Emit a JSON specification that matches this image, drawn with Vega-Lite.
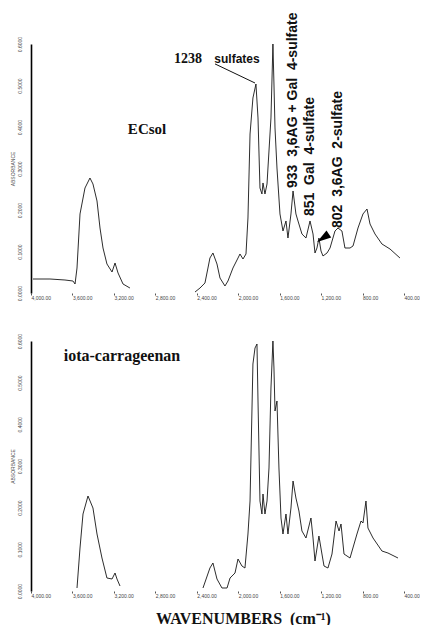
{
  "$schema": "https://vega.github.io/schema/vega-lite/v6.json",
  "padding": {"left": 10, "top": 12, "right": 0, "bottom": 0},
  "spacing": 48,
  "bounds": "flush",
  "background": "white",
  "config": {
    "view": {"stroke": null},
    "axisX": {"domain": false, "tickSize": 2, "tickColor": "#555", "labelFontSize": 5, "labelColor": "#444", "labelAlign": "left", "labelPadding": 0, "grid": false, "labelFont": "Liberation Sans"},
    "axisY": {"domain": true, "domainColor": "#000", "domainWidth": 1.6, "ticks": false, "labelAngle": -90, "labelFontSize": 5, "labelColor": "#444", "labelPadding": 9, "grid": false, "labelFont": "Liberation Sans", "titleFont": "Liberation Sans", "titleFontSize": 5, "titleFontWeight": "normal", "titleColor": "#444", "titlePadding": 2}
  },
  "datasets": {
    "top": [
      {"seg": 1, "wn": 3981, "a": 0.0337}, {"seg": 1, "wn": 3817, "a": 0.0337}, {"seg": 1, "wn": 3672, "a": 0.0313},
      {"seg": 1, "wn": 3595, "a": 0.0289}, {"seg": 1, "wn": 3575, "a": 0.0217}, {"seg": 1, "wn": 3556, "a": 0.0602},
      {"seg": 1, "wn": 3527, "a": 0.1904}, {"seg": 1, "wn": 3479, "a": 0.2530}, {"seg": 1, "wn": 3431, "a": 0.2771},
      {"seg": 1, "wn": 3402, "a": 0.2627}, {"seg": 1, "wn": 3363, "a": 0.2217}, {"seg": 1, "wn": 3334, "a": 0.1566},
      {"seg": 1, "wn": 3305, "a": 0.1084}, {"seg": 1, "wn": 3267, "a": 0.0699}, {"seg": 1, "wn": 3218, "a": 0.0506},
      {"seg": 1, "wn": 3189, "a": 0.0723}, {"seg": 1, "wn": 3160, "a": 0.0482}, {"seg": 1, "wn": 3112, "a": 0.0217},
      {"seg": 1, "wn": 3045, "a": 0.0120},
      {"seg": 2, "wn": 2417, "a": 0.0024}, {"seg": 2, "wn": 2369, "a": 0.0120}, {"seg": 2, "wn": 2321, "a": 0.0241},
      {"seg": 2, "wn": 2292, "a": 0.0602}, {"seg": 2, "wn": 2273, "a": 0.0843}, {"seg": 2, "wn": 2244, "a": 0.0964},
      {"seg": 2, "wn": 2205, "a": 0.0699}, {"seg": 2, "wn": 2176, "a": 0.0361}, {"seg": 2, "wn": 2128, "a": 0.0169},
      {"seg": 2, "wn": 2099, "a": 0.0289}, {"seg": 2, "wn": 2051, "a": 0.0602}, {"seg": 2, "wn": 2002, "a": 0.0843},
      {"seg": 2, "wn": 1983, "a": 0.0940}, {"seg": 2, "wn": 1954, "a": 0.0819}, {"seg": 2, "wn": 1925, "a": 0.0940},
      {"seg": 2, "wn": 1906, "a": 0.1807}, {"seg": 2, "wn": 1886, "a": 0.3831}, {"seg": 2, "wn": 1858, "a": 0.4699},
      {"seg": 2, "wn": 1829, "a": 0.5036}, {"seg": 2, "wn": 1809, "a": 0.4217}, {"seg": 2, "wn": 1790, "a": 0.2530},
      {"seg": 2, "wn": 1771, "a": 0.2386}, {"seg": 2, "wn": 1761, "a": 0.2651}, {"seg": 2, "wn": 1742, "a": 0.2386},
      {"seg": 2, "wn": 1722, "a": 0.2627}, {"seg": 2, "wn": 1713, "a": 0.3012}, {"seg": 2, "wn": 1684, "a": 0.4217},
      {"seg": 2, "wn": 1665, "a": 0.6000}, {"seg": 2, "wn": 1655, "a": 0.5036}, {"seg": 2, "wn": 1645, "a": 0.3976},
      {"seg": 2, "wn": 1626, "a": 0.3012}, {"seg": 2, "wn": 1597, "a": 0.1904}, {"seg": 2, "wn": 1568, "a": 0.1494},
      {"seg": 2, "wn": 1539, "a": 0.1735}, {"seg": 2, "wn": 1520, "a": 0.1325}, {"seg": 2, "wn": 1491, "a": 0.1904},
      {"seg": 2, "wn": 1471, "a": 0.2458}, {"seg": 2, "wn": 1443, "a": 0.1904}, {"seg": 2, "wn": 1423, "a": 0.1735},
      {"seg": 2, "wn": 1385, "a": 0.1422}, {"seg": 2, "wn": 1346, "a": 0.1325}, {"seg": 2, "wn": 1307, "a": 0.1735},
      {"seg": 2, "wn": 1278, "a": 0.1422}, {"seg": 2, "wn": 1259, "a": 0.0964}, {"seg": 2, "wn": 1240, "a": 0.1084},
      {"seg": 2, "wn": 1221, "a": 0.1325}, {"seg": 2, "wn": 1201, "a": 0.1012}, {"seg": 2, "wn": 1182, "a": 0.0892},
      {"seg": 2, "wn": 1143, "a": 0.0964}, {"seg": 2, "wn": 1114, "a": 0.1084}, {"seg": 2, "wn": 1066, "a": 0.1494},
      {"seg": 2, "wn": 1037, "a": 0.1566}, {"seg": 2, "wn": 999, "a": 0.1494}, {"seg": 2, "wn": 970, "a": 0.1084},
      {"seg": 2, "wn": 921, "a": 0.1084}, {"seg": 2, "wn": 892, "a": 0.1133}, {"seg": 2, "wn": 844, "a": 0.1566},
      {"seg": 2, "wn": 796, "a": 0.1904}, {"seg": 2, "wn": 757, "a": 0.2024}, {"seg": 2, "wn": 728, "a": 0.1663},
      {"seg": 2, "wn": 680, "a": 0.1422}, {"seg": 2, "wn": 613, "a": 0.1181}, {"seg": 2, "wn": 535, "a": 0.1060},
      {"seg": 2, "wn": 439, "a": 0.0843}
    ],
    "bottom": [
      {"seg": 1, "wn": 3556, "a": 0.0072}, {"seg": 1, "wn": 3527, "a": 0.1032}, {"seg": 1, "wn": 3498, "a": 0.1848},
      {"seg": 1, "wn": 3450, "a": 0.2280}, {"seg": 1, "wn": 3402, "a": 0.1992}, {"seg": 1, "wn": 3363, "a": 0.1368},
      {"seg": 1, "wn": 3315, "a": 0.0792}, {"seg": 1, "wn": 3267, "a": 0.0312}, {"seg": 1, "wn": 3218, "a": 0.0288},
      {"seg": 1, "wn": 3189, "a": 0.0432}, {"seg": 1, "wn": 3170, "a": 0.0288}, {"seg": 1, "wn": 3141, "a": 0.0120},
      {"seg": 2, "wn": 2340, "a": 0.0072}, {"seg": 2, "wn": 2273, "a": 0.0552}, {"seg": 2, "wn": 2244, "a": 0.0672},
      {"seg": 2, "wn": 2205, "a": 0.0288}, {"seg": 2, "wn": 2157, "a": 0.0072}, {"seg": 2, "wn": 2108, "a": 0.0072},
      {"seg": 2, "wn": 2079, "a": 0.0312}, {"seg": 2, "wn": 2031, "a": 0.0432}, {"seg": 2, "wn": 2002, "a": 0.0768},
      {"seg": 2, "wn": 1964, "a": 0.0600}, {"seg": 2, "wn": 1935, "a": 0.0552}, {"seg": 2, "wn": 1906, "a": 0.1368},
      {"seg": 2, "wn": 1886, "a": 0.2160}, {"seg": 2, "wn": 1858, "a": 0.5448}, {"seg": 2, "wn": 1838, "a": 0.5832},
      {"seg": 2, "wn": 1819, "a": 0.5928}, {"seg": 2, "wn": 1809, "a": 0.4560}, {"seg": 2, "wn": 1790, "a": 0.2160},
      {"seg": 2, "wn": 1771, "a": 0.1848}, {"seg": 2, "wn": 1761, "a": 0.2328}, {"seg": 2, "wn": 1742, "a": 0.1848},
      {"seg": 2, "wn": 1722, "a": 0.2160}, {"seg": 2, "wn": 1703, "a": 0.2952}, {"seg": 2, "wn": 1684, "a": 0.4872},
      {"seg": 2, "wn": 1665, "a": 0.6000}, {"seg": 2, "wn": 1655, "a": 0.5352}, {"seg": 2, "wn": 1645, "a": 0.4320},
      {"seg": 2, "wn": 1626, "a": 0.4560}, {"seg": 2, "wn": 1607, "a": 0.2952}, {"seg": 2, "wn": 1587, "a": 0.1752},
      {"seg": 2, "wn": 1568, "a": 0.1368}, {"seg": 2, "wn": 1539, "a": 0.1848}, {"seg": 2, "wn": 1520, "a": 0.1368},
      {"seg": 2, "wn": 1491, "a": 0.1992}, {"seg": 2, "wn": 1471, "a": 0.2640}, {"seg": 2, "wn": 1443, "a": 0.2232},
      {"seg": 2, "wn": 1414, "a": 0.1920}, {"seg": 2, "wn": 1385, "a": 0.1440}, {"seg": 2, "wn": 1346, "a": 0.1272},
      {"seg": 2, "wn": 1298, "a": 0.1752}, {"seg": 2, "wn": 1278, "a": 0.1272}, {"seg": 2, "wn": 1259, "a": 0.0720},
      {"seg": 2, "wn": 1221, "a": 0.1320}, {"seg": 2, "wn": 1192, "a": 0.0888}, {"seg": 2, "wn": 1172, "a": 0.0600},
      {"seg": 2, "wn": 1134, "a": 0.0552}, {"seg": 2, "wn": 1095, "a": 0.0888}, {"seg": 2, "wn": 1056, "a": 0.1680},
      {"seg": 2, "wn": 1027, "a": 0.1440}, {"seg": 2, "wn": 1008, "a": 0.1608}, {"seg": 2, "wn": 979, "a": 0.0888},
      {"seg": 2, "wn": 921, "a": 0.0792}, {"seg": 2, "wn": 854, "a": 0.1368}, {"seg": 2, "wn": 815, "a": 0.1680},
      {"seg": 2, "wn": 796, "a": 0.1632}, {"seg": 2, "wn": 767, "a": 0.2160}, {"seg": 2, "wn": 748, "a": 0.1512},
      {"seg": 2, "wn": 699, "a": 0.1272}, {"seg": 2, "wn": 613, "a": 0.0960}, {"seg": 2, "wn": 555, "a": 0.0912},
      {"seg": 2, "wn": 458, "a": 0.0792}
    ]
  },
  "vconcat": [
    {
      "width": 373,
      "height": 249,
      "layer": [
        {
          "data": {"name": "top"},
          "mark": {"type": "line", "color": "#151515", "strokeWidth": 0.9},
          "encoding": {
            "x": {"field": "wn", "type": "quantitative", "scale": {"domain": [400, 4000], "reverse": true, "nice": false, "zero": false},
                  "axis": {"title": null, "values": [4000, 3600, 3200, 2800, 2400, 2000, 1600, 1200, 800, 400], "format": ",.2f"}},
            "y": {"field": "a", "type": "quantitative", "scale": {"domain": [0, 0.6], "nice": false, "zero": false},
                  "axis": {"title": "ABSORBANCE", "values": [0, 0.1, 0.2, 0.3, 0.4, 0.5, 0.6], "format": ".4f"}},
            "detail": {"field": "seg"}
          }
        },
        {
          "data": {"values": [{"wn": 2485, "a": 0.554, "label": "1238"}]},
          "mark": {"type": "text", "font": "Liberation Serif", "fontWeight": "bold", "fontSize": 14, "align": "center", "baseline": "alphabetic", "color": "#111"},
          "encoding": {"x": {"field": "wn", "type": "quantitative"}, "y": {"field": "a", "type": "quantitative"}, "text": {"field": "label"}}
        },
        {
          "data": {"values": [{"wn": 2880, "a": 0.383, "label": "ECsol"}]},
          "mark": {"type": "text", "font": "Liberation Serif", "fontWeight": "bold", "fontSize": 15, "align": "center", "baseline": "alphabetic", "color": "#111"},
          "encoding": {"x": {"field": "wn", "type": "quantitative"}, "y": {"field": "a", "type": "quantitative"}, "text": {"field": "label"}}
        },
        {
          "data": {"values": [{"wn": 2012, "a": 0.554, "label": "sulfates"}]},
          "mark": {"type": "text", "font": "Liberation Sans", "fontWeight": "bold", "fontSize": 12, "align": "center", "baseline": "alphabetic", "color": "#111"},
          "encoding": {"x": {"field": "wn", "type": "quantitative"}, "y": {"field": "a", "type": "quantitative"}, "text": {"field": "label"}}
        },
        {
          "data": {"values": [
            {"wn": 1467, "a": 0.253, "label": "933\u00a0\u00a03,6AG\u00a0+\u00a0Gal\u00a0\u00a04-sulfate"},
            {"wn": 1307, "a": 0.1855, "label": "851\u00a0\u00a0Gal\u00a0\u00a04-sulfate"},
            {"wn": 1040, "a": 0.1566, "label": "802\u00a0\u00a03,6AG\u00a0\u00a02-sulfate"}
          ]},
          "mark": {"type": "text", "font": "Liberation Sans", "fontWeight": "bold", "fontSize": 14, "angle": -90, "align": "left", "baseline": "middle", "color": "#111"},
          "encoding": {"x": {"field": "wn", "type": "quantitative"}, "y": {"field": "a", "type": "quantitative"}, "text": {"field": "label"}}
        },
        {
          "data": {"values": [{"wn": 2224, "a": 0.552, "wn2": 1838, "a2": 0.506}]},
          "mark": {"type": "rule", "color": "#111", "strokeWidth": 1},
          "encoding": {"x": {"field": "wn", "type": "quantitative"}, "y": {"field": "a", "type": "quantitative"}, "x2": {"field": "wn2"}, "y2": {"field": "a2"}}
        },
        {
          "data": {"values": [{"wn": 1182, "a": 0.1325}]},
          "mark": {"type": "point", "filled": true, "color": "#000", "opacity": 1, "size": 200, "shape": "M-1,0L1,-0.6L1,0.6Z", "angle": -34},
          "encoding": {"x": {"field": "wn", "type": "quantitative"}, "y": {"field": "a", "type": "quantitative"}}
        }
      ]
    },
    {
      "width": 373,
      "height": 250,
      "layer": [
        {
          "data": {"name": "bottom"},
          "mark": {"type": "line", "color": "#151515", "strokeWidth": 0.9},
          "encoding": {
            "x": {"field": "wn", "type": "quantitative", "scale": {"domain": [400, 4000], "reverse": true, "nice": false, "zero": false},
                  "axis": {"title": "WAVENUMBERS\u00a0\u00a0(cm⁻¹)", "values": [4000, 3600, 3200, 2800, 2400, 2000, 1600, 1200, 800, 400], "format": ",.2f",
                           "titleFont": "Liberation Serif", "titleFontWeight": "bold", "titleFontSize": 16, "titleColor": "#111",
                           "titleAlign": "center", "titleBaseline": "alphabetic", "titleX": 212, "titleY": 32}},
            "y": {"field": "a", "type": "quantitative", "scale": {"domain": [0, 0.6], "nice": false, "zero": false},
                  "axis": {"title": "ABSORBANCE", "values": [0, 0.1, 0.2, 0.3, 0.4, 0.5, 0.6], "format": ".4f"}},
            "detail": {"field": "seg"}
          }
        },
        {
          "data": {"values": [{"wn": 3122, "a": 0.552, "label": "iota-carrageenan"}]},
          "mark": {"type": "text", "font": "Liberation Serif", "fontWeight": "bold", "fontSize": 16, "align": "center", "baseline": "alphabetic", "color": "#111"},
          "encoding": {"x": {"field": "wn", "type": "quantitative"}, "y": {"field": "a", "type": "quantitative"}, "text": {"field": "label"}}
        }
      ]
    }
  ]
}
